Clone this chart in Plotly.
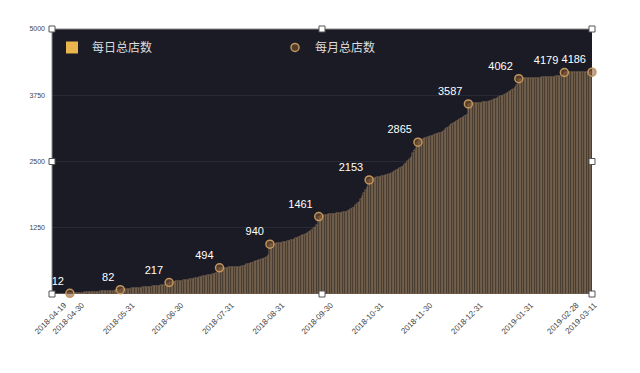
import pandas as pd
import plotly.graph_objects as go

# ---------------- data ----------------
start_date = "2018-04-19"
end_date = "2019-03-17"

daily_apr = [2, 3, 4, 4, 5, 6, 7, 8, 9, 10, 11, 12]
daily_may = [13, 15, 17, 19, 21, 23, 25, 27, 29, 31, 33, 35, 37, 39, 41, 43, 45, 47, 49, 51,
             53, 55, 57, 59, 61, 63, 66, 69, 72, 76, 82]
daily_jun = [86, 89, 92, 95, 98, 101, 104, 107, 110, 113, 116, 119, 122, 125, 128, 131, 134, 137,
             140, 143, 147, 151, 155, 159, 163, 167, 171, 176, 183, 217]
daily_jul = [222, 227, 232, 236, 240, 244, 248, 252, 256, 260, 265, 271, 277, 283, 290, 297, 304,
             311, 319, 326, 333, 340, 346, 352, 358, 365, 372, 380, 388, 398, 494]
daily_aug = [492, 494, 496, 498, 500, 502, 504, 506, 508, 510, 512, 514, 518, 526, 537, 549, 561,
             572, 583, 594, 605, 615, 625, 634, 642, 655, 668, 684, 702, 730, 940]
daily_sep = [945, 948, 952, 956, 961, 966, 971, 976, 981, 987, 995, 1004, 1014, 1025, 1037, 1048,
             1060, 1075, 1090, 1105, 1120, 1135, 1150, 1170, 1192, 1216, 1242, 1270, 1310, 1461]
daily_oct = [1478, 1486, 1490, 1494, 1498, 1502, 1506, 1510, 1514, 1518, 1522, 1527, 1532, 1537,
             1542, 1547, 1553, 1568, 1584, 1600, 1616, 1645, 1676, 1708, 1742, 1790, 1845, 1900,
             1960, 2020, 2153]
daily_nov = [2165, 2175, 2185, 2193, 2200, 2207, 2214, 2221, 2229, 2237, 2245, 2256, 2268, 2282,
             2298, 2318, 2340, 2360, 2380, 2400, 2422, 2444, 2465, 2505, 2548, 2591, 2654, 2717,
             2770, 2865]
daily_dec = [2900, 2915, 2928, 2940, 2950, 2960, 2970, 2980, 2990, 3000, 3010, 3020, 3031, 3043,
             3057, 3080, 3105, 3130, 3158, 3188, 3215, 3235, 3252, 3268, 3284, 3300, 3318, 3335,
             3355, 3380, 3587]
daily_jan = [3592, 3595, 3598, 3601, 3604, 3607, 3610, 3613, 3616, 3619, 3622, 3628, 3636, 3646,
             3658, 3671, 3685, 3699, 3713, 3727, 3742, 3757, 3772, 3788, 3804, 3822, 3845, 3875,
             3912, 3950, 4062]
daily_feb = [4064, 4066, 4067, 4069, 4070, 4072, 4073, 4075, 4076, 4078, 4080, 4082, 4084, 4086,
             4088, 4090, 4092, 4094, 4096, 4098, 4100, 4102, 4104, 4107, 4111, 4116, 4124, 4179]
daily_mar = [4180, 4180, 4181, 4181, 4182, 4182, 4183, 4183, 4184, 4184, 4184, 4185, 4185, 4185,
             4186, 4186, 4186]

monthly_dates = ["2018-04-30", "2018-05-31", "2018-06-30", "2018-07-31", "2018-08-31",
                 "2018-09-30", "2018-10-31", "2018-11-30", "2018-12-31", "2019-01-31",
                 "2019-02-28", "2019-03-17"]
monthly_values = [12, 82, 217, 494, 940, 1461, 2153, 2865, 3587, 4062, 4179, 4186]

x_tick_dates = ["2018-04-19", "2018-04-30", "2018-05-31", "2018-06-30", "2018-07-31",
                "2018-08-31", "2018-09-30", "2018-10-31", "2018-11-30", "2018-12-31",
                "2019-01-31", "2019-02-28", "2019-03-11"]
y_ticks = [1250, 2500, 3750, 5000]

series_daily_name = "每日总店数"
series_monthly_name = "每月总店数"

daily_values = (daily_apr + daily_may + daily_jun + daily_jul + daily_aug + daily_sep +
                daily_oct + daily_nov + daily_dec + daily_jan + daily_feb + daily_mar)
daily_dates = pd.date_range(start_date, end_date, freq="D")
assert len(daily_dates) == len(daily_values)

# ---------------- figure ----------------
BG = "#1a1b24"
fig = go.Figure()

fig.add_trace(go.Bar(
    x=daily_dates, y=daily_values, name=series_daily_name, showlegend=False,
    marker=dict(color="#3f332b", line=dict(width=0.45, color="#a48a6e")),
))
# legend swatch for the daily series
fig.add_trace(go.Bar(
    x=[daily_dates[0]], y=[0], name=series_daily_name, showlegend=True,
    marker=dict(color="#eab54e", line=dict(width=0)), hoverinfo="skip",
))
fig.add_trace(go.Scatter(
    x=pd.to_datetime(monthly_dates), y=monthly_values, name=series_monthly_name,
    mode="markers+text", text=[str(v) for v in monthly_values], textposition="top left",
    textfont=dict(color="#ffffff", size=11, family="Liberation Sans, Arial"),
    marker=dict(size=8, color="rgba(130,90,50,0.55)", line=dict(color="#c4955f", width=1.5)),
    cliponaxis=False,
))

# selection handles + border lines (as in the reference screenshot)
shapes = [
    dict(type="line", xref="paper", yref="paper", x0=0, x1=1, y0=1, y1=1,
         line=dict(color="#8a8a8a", width=1)),
    dict(type="line", xref="paper", yref="paper", x0=0, x1=0, y0=0, y1=1,
         line=dict(color="#8a8a8a", width=1)),
]
for hx, hy in [(0, 1), (0.5, 1), (1, 1), (0, 0.5), (1, 0.5), (0, 0), (0.5, 0), (1, 0)]:
    shapes.append(dict(type="rect", xref="paper", yref="paper", xsizemode="pixel",
                       ysizemode="pixel", xanchor=hx, yanchor=hy, x0=-3, x1=3, y0=-3, y1=3,
                       fillcolor="#ffffff", line=dict(color="#555555", width=1), layer="above"))

fig.update_layout(
    width=640, height=373,
    margin=dict(l=52, r=48, t=29, b=79),
    paper_bgcolor="#ffffff", plot_bgcolor=BG,
    bargap=0.0, barmode="overlay",
    font=dict(family="Liberation Sans, Arial", color="#444"),
    showlegend=True,
    legend=dict(orientation="h", x=0.0, xanchor="left", y=0.985, yanchor="top",
                bgcolor="rgba(0,0,0,0)", entrywidth=178, entrywidthmode="pixels",
                font=dict(color="#dddddd", size=12, family="Noto Sans CJK SC")),
    shapes=shapes,
)
fig.update_xaxes(
    type="date", range=[pd.Timestamp(start_date), pd.Timestamp(end_date)],
    tickmode="array", tickvals=pd.to_datetime(x_tick_dates), ticktext=x_tick_dates,
    tickangle=-45, tickfont=dict(size=8, color="#444"), ticklabelshift=12,
    ticklabelstandoff=4,
    showgrid=False, zeroline=False, showline=False, ticks="",
)
fig.update_yaxes(
    range=[0, 5000], tickmode="array", tickvals=y_ticks, ticktext=[str(v) for v in y_ticks],
    tickfont=dict(size=7, color="#444"), ticklabelstandoff=6,
    showgrid=True, gridcolor="#2a2b37", gridwidth=1,
    zeroline=False, showline=False, ticks="",
)

fig.write_html("out.html")
